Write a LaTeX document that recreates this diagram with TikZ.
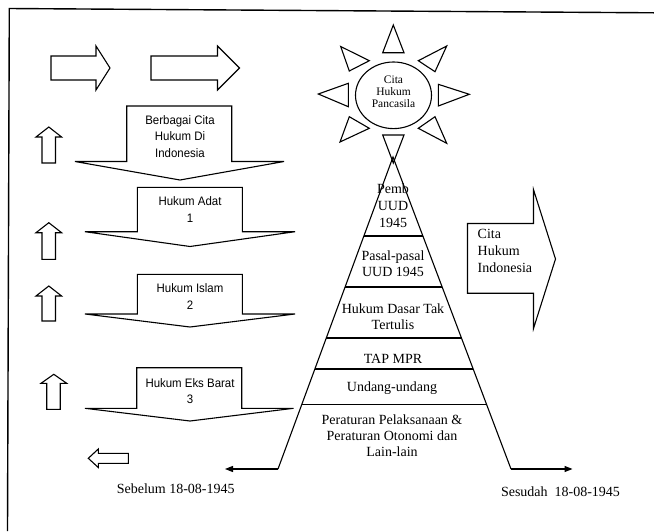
\documentclass[tikz,border=0pt]{standalone}
\usepackage{fontspec}
\setmainfont{Liberation Serif}
\setsansfont{Liberation Sans}
\newfontfamily\narrowsans[FakeStretch=0.93]{Liberation Sans}
\usetikzlibrary{arrows.meta,calc,shapes.geometric}

\begin{document}
\begin{tikzpicture}[x=1pt,y=-1pt,line join=miter,
  outline/.style={draw=black,line width=1.1pt},
  serifbig/.style={font=\fontsize{14}{16.5}\selectfont,align=center,inner sep=0pt},
  serifsmall/.style={font=\fontsize{11.5}{11.8}\selectfont,align=center,inner sep=0pt},
  sanslabel/.style={font=\narrowsans\fontsize{12.3}{16.3}\selectfont,align=center,inner sep=0pt},
  period/.style={draw=black,line width=1.1pt,-{Triangle[length=8pt,width=6pt]}},
]
\useasboundingbox (0,0) rectangle (654,531);

% open frame: top and left edges only
\draw[line width=1.4pt] (7.5,531) -- (9.3,8.5) -- (654,12.8);

% horizontal hollow arrows at the top left
\draw[outline] (51,56) -- (96,56) -- (96,46) -- (110,68) -- (96,90) -- (96,80) -- (51,80) -- cycle;
\draw[outline] (151,56) -- (217.5,56) -- (217.5,46) -- (239.5,68) -- (217.5,90) -- (217.5,80) -- (151,80) -- cycle;

% small upward arrows
\draw[outline] (42,163) -- (42,137) -- (36,137) -- (48.8,127) -- (61.6,137) -- (55.5,137) -- (55.5,163) -- cycle;
\draw[outline] (42,259.3) -- (42,232.7) -- (36,232.7) -- (48.8,222.7) -- (61.6,232.7) -- (55.5,232.7) -- (55.5,259.3) -- cycle;
\draw[outline] (42,321) -- (42,296) -- (36,296) -- (48.8,286) -- (61.6,296) -- (55.5,296) -- (55.5,321) -- cycle;
\draw[outline] (46.7,409.3) -- (46.7,383.3) -- (41,383.3) -- (53.8,374.3) -- (66.7,383.3) -- (60.2,383.3) -- (60.2,409.3) -- cycle;

% small leftward arrow
\draw[outline] (128.3,453.3) -- (98.3,453.3) -- (98.3,449) -- (88.3,458.3) -- (98.3,467.5) -- (98.3,463.3) -- (128.3,463.3) -- cycle;

% downward block arrows
\draw[outline] (126.7,161.5) -- (126.7,106) -- (231.7,106) -- (231.7,161.5) -- (284,161.5) -- (180,180) -- (75,161.5) -- cycle;
\draw[outline] (137.3,231.7) -- (137.3,187.3) -- (242.3,187.3) -- (242.3,231.7) -- (295,231.7) -- (190,246.5) -- (85,231.7) -- cycle;
\draw[outline] (137.3,314) -- (137.3,274.3) -- (242.3,274.3) -- (242.3,314) -- (295,314) -- (190,327) -- (85,314) -- cycle;
\draw[outline] (136.7,408.3) -- (136.7,367.7) -- (241.7,367.7) -- (241.7,408.3) -- (293.5,408.3) -- (190,421) -- (85,408.3) -- cycle;

\node[sanslabel] (berbagai) at (180,136.5) {Berbagai Cita\\Hukum Di\\Indonesia};
\node[sanslabel] (adat) at (190,209.5) {Hukum Adat\\1};
\node[sanslabel] (islam) at (190,296.5) {Hukum Islam\\2};
\node[sanslabel] (barat) at (190,391) {Hukum Eks Barat\\3};

% sun with rays
\node[ellipse,outline,minimum width=76pt,minimum height=66.6pt,inner sep=0pt] (sun) at (393.5,95.3) {};
\node[serifsmall] (suntext) at (393.5,91.5) {Cita\\Hukum\\Pancasila};
\draw[outline] (393.3,25) -- (404,52.7) -- (382.7,52.7) -- cycle;
\draw[outline] (382.7,135) -- (404,135) -- (393.3,163) -- cycle;
\draw[outline] (318.3,94) -- (348.3,83.3) -- (348.3,106.7) -- cycle;
\draw[outline] (469.3,94.3) -- (438.3,84.3) -- (438.3,106) -- cycle;
\draw[outline] (340.7,46.5) -- (369.3,60.7) -- (349.3,71) -- cycle;
\draw[outline] (446.7,46) -- (418.3,60.7) -- (435,71.7) -- cycle;
\draw[outline] (340,142) -- (349.3,116.7) -- (369.3,128.3) -- cycle;
\draw[outline] (446.7,143.3) -- (418.3,128.3) -- (435,116.7) -- cycle;

% pyramid of legal order
\coordinate (apex) at (393,157);
\coordinate (pl) at (278,469);
\coordinate (pr) at (511,469);
\draw[outline] (pl) -- (apex) -- (pr);
\foreach \f in {0.2532,0.4167,0.5801,0.6795,0.7933}
  \draw[outline] ($(apex)!\f!(pl)$) -- ($(apex)!\f!(pr)$);

\node[serifbig,font=\fontsize{14}{17}\selectfont] (pemb) at (393,205.5) {Pemb\\UUD\\1945};
\node[serifbig] (pasal) at (393,263.5) {Pasal-pasal\\UUD 1945};
\node[serifbig] (dasar) at (393,316.5) {Hukum Dasar Tak\\Tertulis};
\node[serifbig] (tap) at (393,359) {TAP MPR};
\node[serifbig] (uu) at (392,388.5) {Undang-undang};
\node[serifbig,font=\fontsize{14}{16.2}\selectfont] (pp) at (392,435.5) {Peraturan Pelaksanaan \&\\Peraturan Otonomi dan\\Lain-lain};

% time arrows at the base
\coordinate (before) at (225,469);
\coordinate (after) at (572.5,469);
\draw[period] (pl) -- (before);
\draw[period] (pr) -- (after);
\node[serifbig] (sebelum) at (175.7,488.5) {Sebelum 18-08-1945};
\node[serifbig] (sesudah) at (560.5,491.5) {Sesudah\ \ 18-08-1945};

% resulting legal ideal
\draw[outline] (467.5,223.5) -- (533.5,223.5) -- (533.5,189.6) -- (555.5,259) -- (533.5,328.5) -- (533.5,293.2) -- (467.5,293.2) -- cycle;
\node[serifbig,align=left,anchor=west,font=\fontsize{14}{16.7}\selectfont] (citaind) at (477.5,251) {Cita\\Hukum\\Indonesia};

\end{tikzpicture}
\end{document}
